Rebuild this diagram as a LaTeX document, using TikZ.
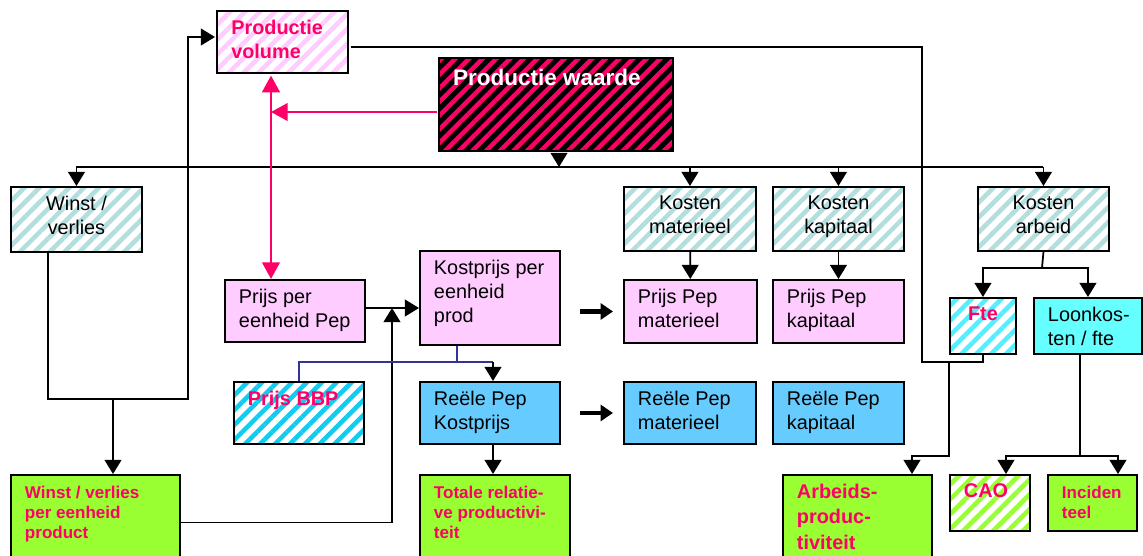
\documentclass[tikz,border=0pt]{standalone}
\usepackage{fontspec}
\setmainfont{Liberation Sans}
\usepackage{xcolor}
\usepackage{tikz}
\usetikzlibrary{arrows.meta,patterns.meta}

\definecolor{hotpink}{HTML}{FF0066}
\definecolor{lightpink}{HTML}{FFCCFF}
\definecolor{skyblue}{HTML}{66CCFF}
\definecolor{aquabox}{HTML}{66FFFF}
\definecolor{greenbox}{HTML}{99FF33}
\definecolor{hatchgray}{HTML}{B2DEDE}
\definecolor{hatchfte}{HTML}{55EEFF}
\definecolor{hatchbbp}{HTML}{11CCF0}
\definecolor{navyline}{HTML}{333399}

\newdimen\pxu \pxu=0.02cm
\newcommand{\tb}[4][5pt]{\parbox[t][#3\pxu][t]{#2\pxu}{\raggedright\leftskip=14\pxu\relax\vspace*{#1}#4}}

\tikzset{
	bx/.style={draw, line width=1.1pt, inner sep=0pt, anchor=north west, font=\fontsize{11.3}{13.9}\selectfont},
	hatch/.style={preaction={fill=white}, pattern={Lines[angle=45,distance=6pt,line width=2.6pt]}, pattern color=#1},
	darkhatch/.style={preaction={fill=black}, pattern={Lines[angle=45,distance=5.5pt,line width=2.5pt]}, pattern color=hotpink},
	pinktxt/.style={text=hotpink, font=\fontsize{11.3}{13.9}\selectfont\bfseries},
	smalltxt/.style={text=hotpink, font=\fontsize{9.7}{11.4}\selectfont\bfseries},
	link/.style={line width=1pt},
	arr/.style={link, ->},
	pinkarr/.style={hotpink, line width=1.4pt, >={Triangle[width=10pt,length=9.5pt]}, ->},
	blueline/.style={navyline, line width=0.9pt},
	fat/.style={line width=2.6pt, -{Triangle[width=9pt,length=7pt]}, shorten <=0.38cm, shorten >=0.2cm}
}

\begin{document}
\begin{tikzpicture}[x=0.02cm, y=-0.02cm, >={Triangle[width=9.5pt,length=8pt]}]
	\useasboundingbox (0,0) rectangle (1143,555);

	\node[bx, hatch=lightpink, pinktxt] (pv) at (215,9) {\tb{131}{62}{Productie\\volume}};
	\node[bx, darkhatch, text=white, font=\fontsize{12.8}{15}\selectfont\bfseries] (pw) at (437,56) {\tb[6pt]{234}{93}{Productie waarde}};

	\node[bx, hatch=hatchgray] (wv) at (10,186) {\tb{131}{65}{\centering Winst /\\verlies}};
	\node[bx, hatch=hatchgray] (km) at (623,186) {\tb{132}{64}{\centering Kosten\\materieel}};
	\node[bx, hatch=hatchgray] (kk) at (772,186) {\tb{131}{64}{\centering Kosten\\kapitaal}};
	\node[bx, hatch=hatchgray] (ka) at (977,186) {\tb{131}{64}{\centering Kosten\\arbeid}};

	\node[bx, fill=lightpink] (ppe) at (224,279) {\tb{140}{62}{Prijs per\\eenheid Pep}};
	\node[bx, fill=lightpink] (kpe) at (419,250) {\tb{140}{94}{Kostprijs per\\eenheid\\prod}};
	\node[bx, fill=lightpink] (ppm) at (623,279) {\tb{133}{63}{Prijs Pep\\materieel}};
	\node[bx, fill=lightpink] (ppk) at (772,279) {\tb{131}{63}{Prijs Pep\\kapitaal}};
	\node[bx, hatch=hatchfte, pinktxt] (fte) at (949,297) {\tb{66}{56}{\centering Fte}};
	\node[bx, fill=aquabox] (lk) at (1033,297) {\tb{108}{56}{Loonkos-\\ten / fte}};

	\node[bx, hatch=hatchbbp, pinktxt] (bbp) at (233,381) {\tb{130}{62}{Prijs BBP}};
	\node[bx, fill=skyblue] (rpk) at (419,381) {\tb{140}{62}{Reële Pep\\Kostprijs}};
	\node[bx, fill=skyblue] (rpm) at (623,381) {\tb{132}{62}{Reële Pep\\materieel}};
	\node[bx, fill=skyblue] (rpkap) at (772,381) {\tb{131}{62}{Reële Pep\\kapitaal}};

	\node[bx, fill=greenbox, smalltxt] (wvp) at (10,474) {\tb[6.5pt]{169}{95}{Winst / verlies\\per eenheid\\product}};
	\node[bx, fill=greenbox, smalltxt] (tot) at (419,474) {\tb[6.5pt]{150}{95}{Totale relatie-\\ve productivi-\\teit}};
	\node[bx, fill=greenbox, pinktxt, font=\fontsize{11.3}{14.5}\selectfont\bfseries] (arb) at (782,474) {\tb{149}{95}{Arbeids-\\produc-\\tiviteit}};
	\node[bx, hatch=greenbox, pinktxt] (cao) at (949,474) {\tb{80}{56}{CAO}};
	\node[bx, fill=greenbox, smalltxt] (inc) at (1047,474) {\tb[6.5pt]{89}{56}{Inciden\\teel}};

	\coordinate (bus) at (559,167);
	\coordinate (pj) at (271,112);
	\coordinate (fj) at (922,362);
	\coordinate (aj) at (912,456);
	\coordinate (wj) at (113,399);
	\coordinate (uj) at (392,308);
	\coordinate (kj) at (457,362);
	\coordinate (nj) at (493,362);
	\coordinate (lj) at (1042,268);
	\coordinate (cj) at (1080,456);

	\draw[arr] (bus |- pw.south) -- (bus);
	\draw[link] (wv.north |- bus) -- (ka.north |- bus);
	\foreach \n in {wv,km,kk,ka}
		\draw[arr] (\n.north |- bus) -- (\n.north);

	\draw[pinkarr] (pw.west |- pj) -- (pj);
	\draw[pinkarr, <->] (pv.south -| pj) -- (ppe.north -| pj);

	\draw[link] (pv.east |- 0,47) -| (fj) -| (fte.south);
	\draw[arr] (fj -| 949,0) |- (aj) -- (arb.north -| aj);

	\draw[arr] (wv.south -| 48,0) |- (188,399) |- (pv.west |- 0,37);
	\draw[arr] (wj) -- (wvp.north -| wj);
	\draw[arr] (wvp.east) -| (uj);
	\draw[arr] (ppe.east |- uj) -- (kpe.west |- uj);

	\draw[blueline] (kpe.south -| kj) -- (kj);
	\draw[blueline] (bbp.north) |- (nj);
	\draw[arr] (nj) -- (rpk.north -| nj);
	\draw[arr] (rpk.south -| nj) -- (tot.north -| nj);

	\draw[fat] (kpe.east |- ppm.west) -- (ppm.west);
	\draw[fat] (rpk.east) -- (rpm.west);
	\draw[arr] (km) -- (ppm);
	\draw[arr] (kk) -- (ppk);

	\draw[link] (ka.south) -- (lj);
	\draw[arr] (lj) -| (fte.north);
	\draw[arr] (lj) -| (lk.north);
	\draw[link] (lk.south -| cj) -- (cj);
	\draw[arr] (cj) -| (cao.north -| 1006,0);
	\draw[arr] (cj) -| (inc.north -| 1118,0);
\end{tikzpicture}
\end{document}
